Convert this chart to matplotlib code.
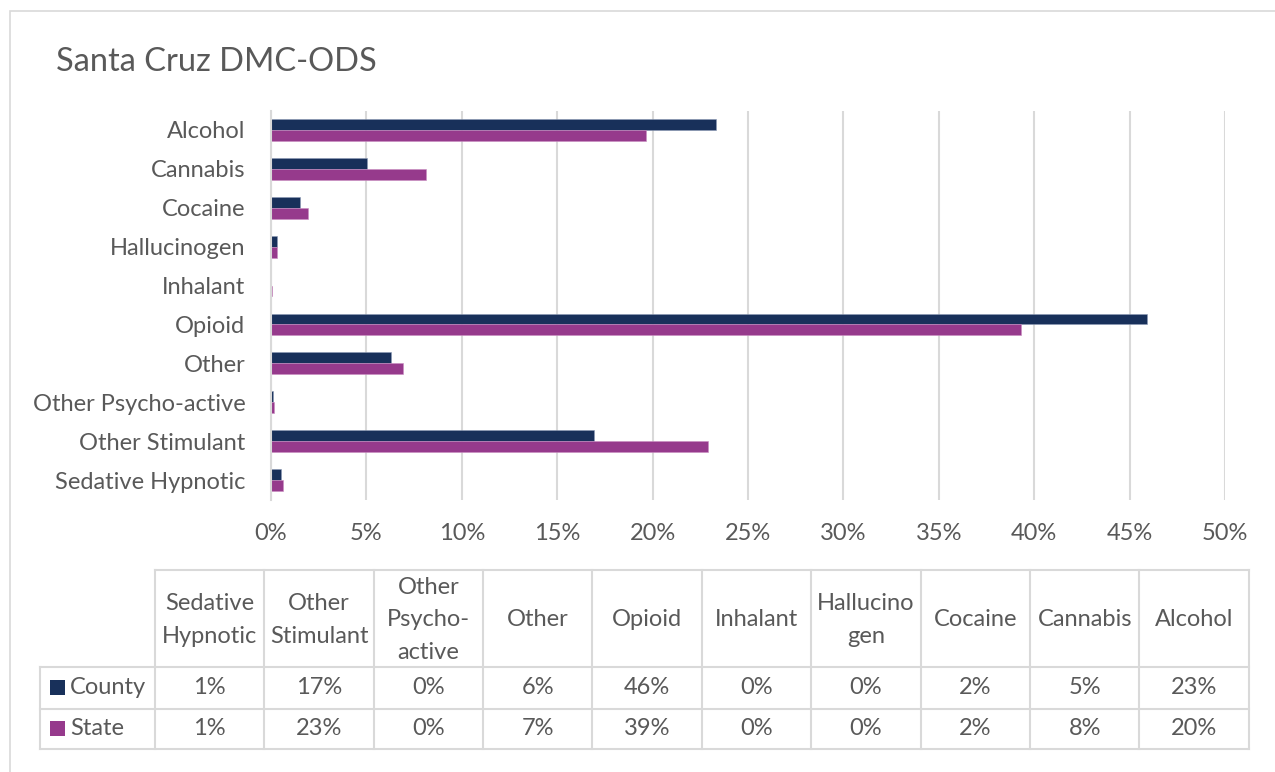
import matplotlib
matplotlib.use("Agg")
import matplotlib.pyplot as plt
from matplotlib.patches import Rectangle
from matplotlib.lines import Line2D
from matplotlib.ticker import FuncFormatter

# share of admissions by primary substance, percent
categories = ["Alcohol", "Cannabis", "Cocaine", "Hallucinogen", "Inhalant", "Opioid",
              "Other", "Other Psycho-active", "Other Stimulant", "Sedative Hypnotic"]
county = [23.3, 5.05, 1.5, 0.33, 0.02, 45.9, 6.3, 0.1, 16.95, 0.52]
state = [19.65, 8.1, 1.95, 0.3, 0.04, 39.3, 6.9, 0.15, 22.9, 0.62]
series = ["County", "State"]

# header labels of the data table (reversed order, wrapped like the cells)
table_headers = ["Sedative\nHypnotic", "Other\nStimulant", "Other\nPsycho-\nactive", "Other",
                 "Opioid", "Inhalant", "Hallucino\ngen", "Cocaine", "Cannabis", "Alcohol"]

navy = "#18305A"
purple = "#963A8C"
grid = "#D9D9D9"
txt = "#595959"
FONT = "Lato"
FS = 17

W, H = 1275, 772
fig = plt.figure(figsize=(W / 100, H / 100), dpi=100)
plt.rcParams["font.family"] = [FONT, "DejaVu Sans"]


def fx(x):
    return x / W


def fy(y):
    return 1 - y / H


# outer frame of the chart
fig.patches.append(Rectangle((fx(10), fy(H + 20)), fx(W + 20), (H + 9) / H, transform=fig.transFigure,
                             fill=False, edgecolor=grid, linewidth=1.2))

fig.text(fx(56), fy(62), "Santa Cruz DMC-ODS", fontsize=23.5, color=txt, va="center",
         ha="left")

# bar chart
x0, x1, top, bot = 271, 1225, 110.5, 499.5
ax = fig.add_axes([fx(x0), fy(bot), (x1 - x0) / W, (bot - top) / H])
h = 0.28
ys = list(range(len(categories)))
ax.barh([y - h / 2 for y in ys], county, height=h, color=navy, edgecolor="#8C9AB5", linewidth=0.4)
ax.barh([y + h / 2 for y in ys], state, height=h, color=purple, edgecolor="#C98DC1", linewidth=0.4)
ax.set_ylim(len(categories) - 0.5, -0.5)
ax.set_xlim(0, 50)
ax.set_xticks(range(0, 51, 5))
ax.xaxis.set_major_formatter(FuncFormatter(lambda v, p: f"{v:.0f}%"))
ax.set_yticks(ys)
ax.set_yticklabels(categories)
ax.grid(axis="x", color=grid, linewidth=1.5)
ax.set_axisbelow(True)
for s in ["top", "right", "bottom"]:
    ax.spines[s].set_visible(False)
ax.spines["left"].set_color(grid)
ax.spines["left"].set_linewidth(1.5)
ax.tick_params(axis="both", length=0, labelsize=FS, labelcolor=txt)
ax.tick_params(axis="y", pad=18.5)
ax.tick_params(axis="x", pad=17)

# data table underneath
cols_x = [155 + i * 109.37 for i in range(len(categories) + 1)]
y_head, y_r1, y_r2, y_end = 570, 667, 708.5, 749
lw = 1.5


def hline(y, xa, xb):
    fig.add_artist(Line2D([fx(xa), fx(xb)], [fy(y), fy(y)], color=grid, linewidth=lw))


def vline(x, ya, yb):
    fig.add_artist(Line2D([fx(x), fx(x)], [fy(ya), fy(yb)], color=grid, linewidth=lw))


hline(y_head, cols_x[0], cols_x[-1])
for yy in (y_r1, y_r2, y_end):
    hline(yy, 40, cols_x[-1])
vline(40, y_r1, y_end)
for xx in cols_x:
    vline(xx, y_head, y_end)

n = len(categories)
for j, lab in enumerate(table_headers):
    cx = (cols_x[j] + cols_x[j + 1]) / 2
    fig.text(fx(cx), fy((y_head + y_r1) / 2 + 1.5), lab, fontsize=FS, color=txt, ha="center",
             va="center", linespacing=1.68)

rows = [(county, navy, (y_r1 + y_r2) / 2), (state, purple, (y_r2 + y_end) / 2)]
for name, (vals, col, cy) in zip(series, rows):
    fig.patches.append(Rectangle((fx(50), fy(cy + 7)), fx(14.5), 14.5 / H, transform=fig.transFigure,
                                 facecolor=col, edgecolor="none"))
    fig.text(fx(70), fy(cy), name, fontsize=FS, color=txt, ha="left", va="center")
    for j in range(n):
        v = vals[n - 1 - j]
        cx = (cols_x[j] + cols_x[j + 1]) / 2
        fig.text(fx(cx), fy(cy), f"{v:.0f}%", fontsize=FS, color=txt, ha="center", va="center")

fig.savefig("out.png", dpi=100, facecolor="white")
